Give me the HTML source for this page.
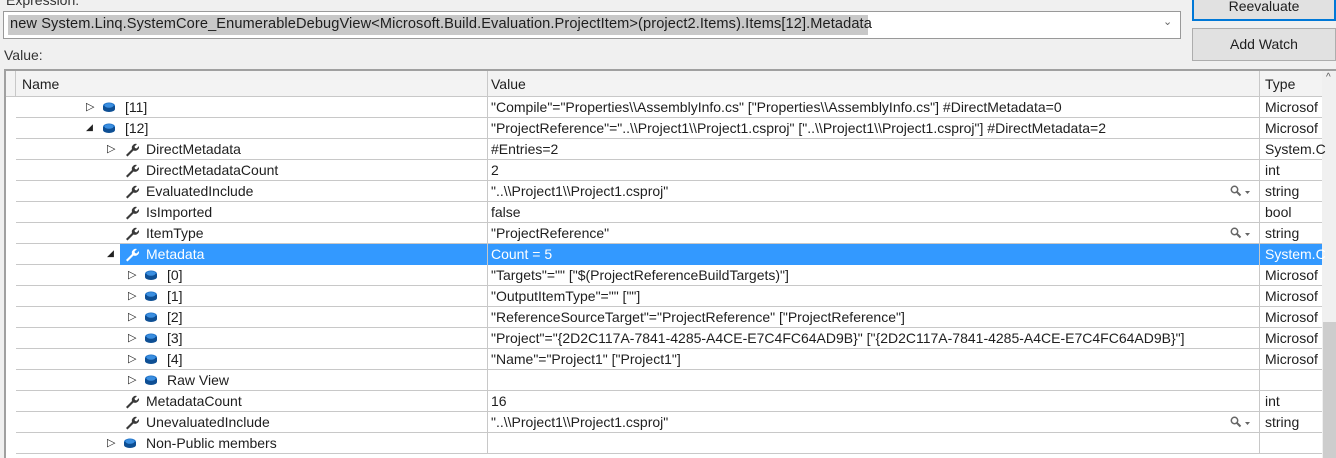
<!DOCTYPE html>
<html><head><style>
*{margin:0;padding:0;box-sizing:border-box}
body{width:1336px;height:458px;background:#f0f0f0;font-family:"Liberation Sans",sans-serif;font-size:14px;color:#1e1e1e;position:relative;overflow:hidden}
.a{position:absolute;white-space:nowrap}
.row{position:absolute;left:16px;width:1306px;height:21px;border-bottom:1px solid #c8c8c8;background:#fff}
.row span{position:absolute;top:2px;white-space:nowrap}
.ico{position:absolute;top:5px;width:12px;height:10px}
.arr{position:absolute;top:5px;font-size:10px}
</style></head><body>
<div class="a" style="left:6px;top:-8px;color:#333">Expression:</div>
<div class="a" style="left:3px;top:11px;width:1178px;height:28px;background:#fff;border:1px solid #999"></div>
<div class="a" style="left:8px;top:15px;width:860px;height:20px;background:#c8c8c8;padding:1px 2px;font-size:14.6px;letter-spacing:0.1px">new System.Linq.SystemCore_EnumerableDebugView&lt;Microsoft.Build.Evaluation.ProjectItem&gt;(project2.Items).Items[12].Metadata</div>
<div class="a" style="left:1163px;top:15px;font-size:11px;color:#666">&#8964;</div>
<div class="a" style="left:1192px;top:-6px;width:144px;height:27px;background:#e1e1e1;border:2px solid #0078d7;text-align:center;line-height:20px">Reevaluate</div>
<div class="a" style="left:1192px;top:28px;width:144px;height:33px;background:#e1e1e1;border:1px solid #adadad;text-align:center;line-height:31px">Add Watch</div>
<div class="a" style="left:4px;top:47px;color:#333">Value:</div>
<div class="a" style="left:4px;top:69px;width:1332px;height:389px;background:#fff;border-top:2px solid #a0a0a0;border-left:2px solid #a0a0a0"></div>
<div class="a" style="left:6px;top:71px;width:1316px;height:26px;background:#f3f3f3;border-bottom:1px solid #c8c8c8"></div>
<div class="a" style="left:15px;top:71px;width:1px;height:26px;background:#c8c8c8"></div>
<div class="a" style="left:22px;top:76px">Name</div>
<div class="a" style="left:491px;top:76px">Value</div>
<div class="a" style="left:1265px;top:76px">Type</div>
<div class="a" style="left:1322px;top:71px;width:14px;height:387px;background:#f0f0f0"></div>
<div class="a" style="left:1323px;top:322px;width:13px;height:136px;background:#cdcdcd"></div>
<div class="a" style="left:1326px;top:72px;font-size:10px;color:#555">&#94;</div>
<div id="g"></div>
<script>
var rows=[
[0,'▷','c','[11]','"Compile"="Properties\\\\AssemblyInfo.cs" ["Properties\\\\AssemblyInfo.cs"] #DirectMetadata=0','Microsof'],
[0,'◢','c','[12]','"ProjectReference"="..\\\\Project1\\\\Project1.csproj" ["..\\\\Project1\\\\Project1.csproj"] #DirectMetadata=2','Microsof'],
[1,'▷','w','DirectMetadata','#Entries=2','System.C'],
[1,'','w','DirectMetadataCount','2','int'],
[1,'','w','EvaluatedInclude','"..\\\\Project1\\\\Project1.csproj"','string',1],
[1,'','w','IsImported','false','bool'],
[1,'','w','ItemType','"ProjectReference"','string',1],
[1,'◢','w','Metadata','Count = 5','System.C',0,1],
[2,'▷','c','[0]','"Targets"="" ["$(ProjectReferenceBuildTargets)"]','Microsof'],
[2,'▷','c','[1]','"OutputItemType"="" [""]','Microsof'],
[2,'▷','c','[2]','"ReferenceSourceTarget"="ProjectReference" ["ProjectReference"]','Microsof'],
[2,'▷','c','[3]','"Project"="{2D2C117A-7841-4285-A4CE-E7C4FC64AD9B}" ["{2D2C117A-7841-4285-A4CE-E7C4FC64AD9B}"]','Microsof'],
[2,'▷','c','[4]','"Name"="Project1" ["Project1"]','Microsof'],
[2,'▷','c','Raw View','',''],
[1,'','w','MetadataCount','16','int'],
[1,'','w','UnevaluatedInclude','"..\\\\Project1\\\\Project1.csproj"','string',1],
[1,'▷','c','Non-Public members','','']
];
var h='';
var cube='<svg class="ico" viewBox="0 0 12 10"><ellipse cx="6" cy="4" rx="6" ry="3.5" fill="#1c6fc4"/><rect x="0" y="4" width="12" height="3" fill="#0e4f94"/><ellipse cx="6" cy="7" rx="6" ry="3" fill="#0e4f94"/><ellipse cx="6" cy="3.5" rx="4.5" ry="2.3" fill="#3a8ee0"/></svg>';
function wr(c){return '<svg class="ico" style="top:3px;width:15px;height:15px" viewBox="0 0 15 15"><path d="M2 13 L8 7 A4 4 0 0 1 13 2 L10.5 4.5 L11 6 L12.5 6.5 L15 4 A4 4 0 0 1 9.5 8.5 L3.5 14.5 Z" fill="'+c+'"/></svg>';}
var mag='<svg style="position:absolute;left:1214px;top:4px" width="22" height="12" viewBox="0 0 22 12"><circle cx="4.5" cy="4.5" r="3.2" fill="none" stroke="#666" stroke-width="1.5"/><path d="M7 7 L10.5 10.5" stroke="#666" stroke-width="2"/><path d="M15 6 L20 6 L17.5 9 Z" fill="#666"/></svg>';
rows.forEach(function(r,i){
 var top=97+21*i,ind=r[0]*21,sel=r[7];
 var ax=70+ind,ix=87+ind,tx=109+ind;
 h+='<div class="row" style="top:'+top+'px">';
 if(sel)h+='<div style="position:absolute;left:'+(ix-4)+'px;top:0;width:'+(1306-ix+4)+'px;height:21px;background:#3399ff"></div>';
 if(r[1])h+='<span class="arr" style="left:'+ax+'px;top:'+(r[1]=='◢'?4:3)+'px;font-size:'+(r[1]=='◢'?9:11)+'px;color:#222">'+r[1]+'</span>';
 h+='<span style="left:'+ix+'px;top:0;width:16px;height:21px">'+(r[2]=='c'?cube:wr(sel?'#fff':'#3a3a3a'))+'</span>';
 h+='<span style="left:'+tx+'px'+(sel?';color:#fff':'')+'">'+r[3]+'</span>';
 h+='<span style="left:475px'+(sel?';color:#fff':'')+'">'+r[4]+'</span>';
 if(r[6])h+=mag;
 h+='<span style="left:1249px'+(sel?';color:#fff':'')+'">'+r[5]+'</span>';
 h+='<div style="position:absolute;left:471px;top:0;width:1px;height:21px;background:#c8c8c8"></div>';
 h+='<div style="position:absolute;left:1243px;top:0;width:1px;height:21px;background:#c8c8c8"></div>';
 h+='</div>';
});
h+='<div class="a" style="left:487px;top:71px;width:1px;height:26px;background:#c8c8c8"></div><div class="a" style="left:1259px;top:71px;width:1px;height:26px;background:#c8c8c8"></div>';
document.getElementById('g').innerHTML=h;
</script>
</body></html>
